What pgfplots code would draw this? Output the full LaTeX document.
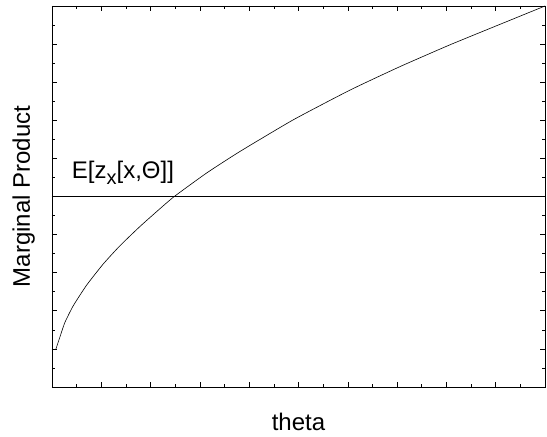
\documentclass[border=0pt]{standalone}
\usepackage{fontspec}
\setmainfont{Liberation Sans}
\usepackage{pgfplots}
\pgfplotsset{compat=1.18}

\begin{document}
\begin{tikzpicture}
\begin{axis}[
  name=ax,
  scale only axis,
  width=493pt, height=381pt,
  xmin=0, xmax=10, ymin=0, ymax=10,
  xtick={0,1,...,10}, ytick={0,1,...,10},
  minor x tick num=1, minor y tick num=1,
  xticklabels={}, yticklabels={},
  tick align=inside,
  major tick length=5pt, minor tick length=3pt,
  tick style={black, line width=0.6pt},
  axis line style={line width=0.9pt},
  xlabel={theta}, ylabel={Marginal Product},
  label style={font=\fontsize{24}{28}\selectfont},
  xlabel style={at={(axis description cs:0.5,-0.114)}, anchor=base},
  ylabel style={at={(axis description cs:-0.045,0.5)}, anchor=base},
  clip=false,
]
% flat start of the curve
\addplot[black, line width=0.6pt] coordinates {(0,1.0) (0.08,1.0)};
% marginal product curve
\addplot[black, line width=0.6pt, smooth, tension=0.3] coordinates {
  (0.08,1.0) (0.16,1.31) (0.26,1.69) (0.43,2.13) (0.70,2.67)
  (1.04,3.23) (1.38,3.71) (1.79,4.22) (2.19,4.68) (2.48,5.00)
  (3.14,5.62) (3.81,6.18) (4.89,7.01) (6.04,7.79) (7.06,8.41)
  (8.07,8.98) (9.09,9.52) (10,10)
};
% expected value line
\addplot[black, line width=0.6pt] coordinates {(0,5) (10,5)};
\node[anchor=base west, font=\fontsize{24}{28}\selectfont, inner sep=0pt]
  at (axis cs:0.40,5.48) {E[z\raisebox{-0.28em}{\fontsize{20}{20}\selectfont x}[x,Θ]]};
\end{axis}
\pgfresetboundingbox
\useasboundingbox ([shift={(-52pt,-49.3pt)}]ax.south west) rectangle ([shift={(2pt,6pt)}]ax.north east);
\end{tikzpicture}
\end{document}
